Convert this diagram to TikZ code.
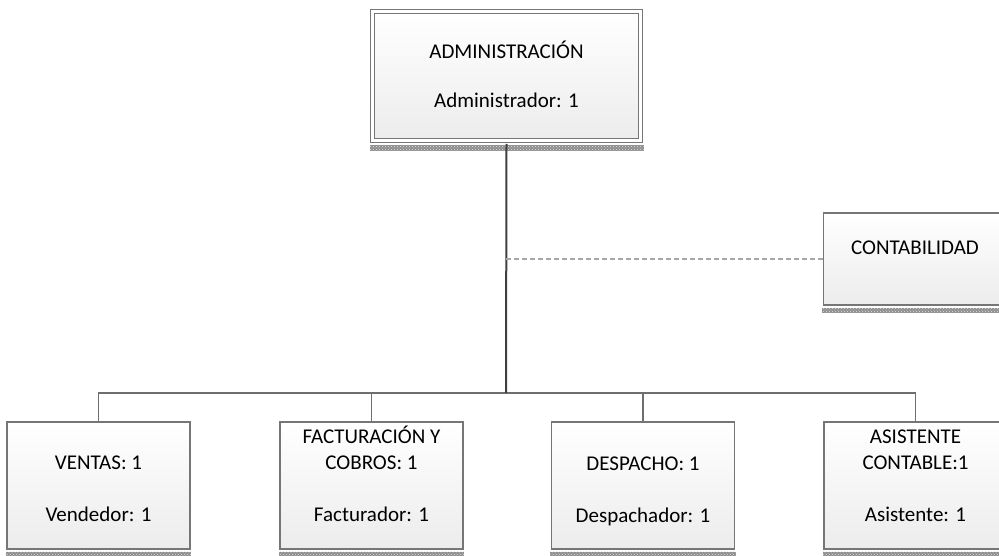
\documentclass[tikz,border=0pt]{standalone}
\usepackage{fontspec}
\setmainfont{Carlito}
\usetikzlibrary{patterns,calc}

\definecolor{boxline}{HTML}{767676}
\definecolor{boxfill}{HTML}{ECECEC}
\definecolor{trunk}{HTML}{3F3F3F}
\definecolor{branch}{HTML}{6E6E6E}
\definecolor{dashgray}{HTML}{A6A6A6}
\definecolor{stripgray}{HTML}{8E8E8E}

\tikzset{
  unitbox/.style={draw=boxline, line width=1.2pt, top color=white,
    bottom color=boxfill, inner sep=0pt,
    minimum width=183pt, minimum height=127pt},
  headbox/.style={unitbox, double=white, double distance=3pt, line width=1pt,
    minimum width=268pt, minimum height=129pt},
  sidebox/.style={unitbox, minimum height=92pt},
  boxtext/.style={align=center, inner sep=0pt, text=black,
    font=\fontsize{21}{26.5}\selectfont},
  strip/.style={fill=stripgray,
    postaction={pattern=crosshatch dots, pattern color=white!75!stripgray}},
  trunkline/.style={draw=trunk, line width=2pt},
  branchline/.style={draw=branch, line width=1.3pt},
  staffline/.style={draw=dashgray, line width=1.2pt, dash pattern=on 5pt off 3pt},
}

\begin{document}
\begin{tikzpicture}[x=1pt, y=-1pt]
  \useasboundingbox (0,0) rectangle (999,556);
  \clip (0,0) rectangle (999,556);

  % boxes of the chart
  \node[headbox] (admin) at (506.5,76) {};
  \node[sidebox] (conta) at (915,259) {};
  \node[unitbox] (ventas) at (98.5,485.5) {};
  \node[unitbox] (fact)   at (371.5,485.5) {};
  \node[unitbox] (desp)   at (643,485.5) {};
  \node[unitbox] (asist)  at (915.5,485.5) {};

  % hatched strips under the boxes
  \fill[strip] ([xshift=-2.5pt,yshift=-4pt]admin.south west)
    rectangle ([xshift=2.5pt,yshift=-10pt]admin.south east);
  \foreach \b in {conta,ventas,fact,desp,asist}
    \fill[strip] ([xshift=-0.6pt,yshift=-2pt]\b.south west)
      rectangle ([xshift=0.6pt,yshift=-7pt]\b.south east);

  % connectors
  \coordinate (bus) at (506,393);
  \draw[branchline] (ventas.north) |- (bus) -| (asist.north);
  \draw[branchline] (fact.north) -- (fact.north |- bus);
  \draw[branchline] (desp.north) -- (desp.north |- bus);
  \draw[trunkline] ([yshift=-3pt]admin.south) -- (bus);
  \draw[staffline] (conta.west) -- (conta.west -| bus);

  % texts
  \node[boxtext] (admin-t) at ([yshift=1.5pt]admin.center)
    {ADMINISTRACIÓN\\[22.5pt]Administrador: 1};
  \node[boxtext] (conta-t) at ([yshift=11pt]conta.center) {CONTABILIDAD};
  \node[boxtext] (ventas-t) at ([yshift=-3.5pt]ventas.center)
    {VENTAS: 1\\[25.5pt]Vendedor: 1};
  \node[boxtext] (fact-t) at ([yshift=11.75pt]fact.center)
    {FACTURACIÓN Y\\COBROS: 1\\[25.5pt]Facturador: 1};
  \node[boxtext] (desp-t) at ([yshift=-5.75pt]desp.center)
    {DESPACHO: 1\\[25.5pt]Despachador: 1};
  \node[boxtext] (asist-t) at ([yshift=9.75pt]asist.center)
    {ASISTENTE\\CONTABLE:1\\[25.5pt]Asistente: 1};
\end{tikzpicture}
\end{document}
